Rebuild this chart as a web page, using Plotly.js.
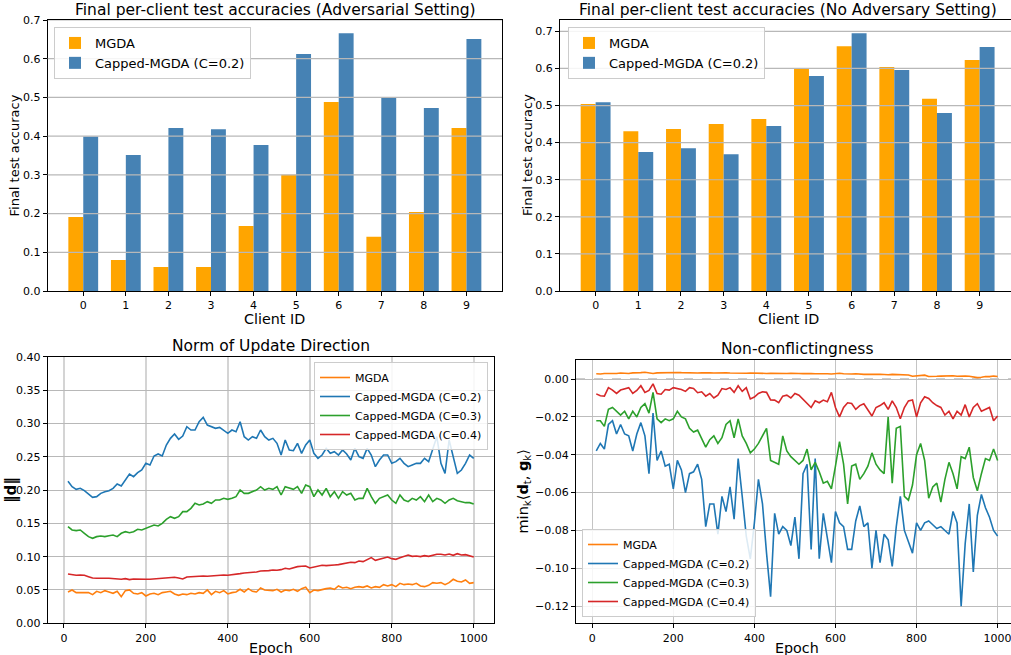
<!DOCTYPE html>
<html>
<head>
<meta charset="utf-8">
<script src="https://cdn.plot.ly/plotly-3.0.1.min.js"></script>
<style>
html,body{margin:0;padding:0;background:#fff;}
#chart{width:1011px;height:655px;}
</style>
</head>
<body>
<div id="chart"></div>
<script>
// ---------- data ----------
const clients = [0,1,2,3,4,5,6,7,8,9];
const advMGDA    = [0.191,0.080,0.062,0.062,0.168,0.300,0.488,0.140,0.204,0.421];
const advCapped  = [0.399,0.351,0.421,0.418,0.377,0.612,0.666,0.501,0.473,0.651];
const noAdvMGDA  = [0.504,0.431,0.437,0.450,0.464,0.599,0.660,0.604,0.518,0.623];
const noAdvCapped= [0.509,0.375,0.385,0.369,0.445,0.580,0.695,0.596,0.480,0.658];
const accTicks = [0.1,0.2,0.3,0.4,0.5,0.6,0.7];

const epochs = [10,20,30,40,50,60,70,80,90,100,110,120,130,140,150,160,170,180,190,200,
210,220,230,240,250,260,270,280,290,300,310,320,330,340,350,360,370,380,390,400,
410,420,430,440,450,460,470,480,490,500,510,520,530,540,550,560,570,580,590,600,
610,620,630,640,650,660,670,680,690,700,710,720,730,740,750,760,770,780,790,800,
810,820,830,840,850,860,870,880,890,900,910,920,930,940,950,960,970,980,990,1000];

// Norm of update direction
const normMGDA = [0.047,0.050,0.046,0.046,0.045,0.046,0.043,0.048,0.046,0.049,
0.047,0.045,0.048,0.040,0.049,0.050,0.045,0.044,0.046,0.041,
0.044,0.045,0.043,0.046,0.047,0.048,0.044,0.042,0.044,0.043,
0.045,0.044,0.046,0.045,0.050,0.043,0.048,0.046,0.049,0.044,
0.046,0.047,0.051,0.047,0.052,0.048,0.047,0.053,0.050,0.050,
0.049,0.051,0.047,0.050,0.049,0.051,0.048,0.052,0.054,0.046,
0.050,0.049,0.051,0.052,0.053,0.051,0.056,0.053,0.054,0.052,
0.054,0.055,0.054,0.056,0.053,0.055,0.054,0.058,0.056,0.058,
0.055,0.060,0.058,0.059,0.058,0.060,0.056,0.055,0.057,0.061,
0.060,0.061,0.058,0.061,0.066,0.063,0.062,0.065,0.060,0.061];
const normC02 = [0.213,0.205,0.201,0.2025,0.199,0.194,0.189,0.190,0.195,0.1975,
0.199,0.2025,0.209,0.206,0.215,0.224,0.220,0.226,0.230,0.240,
0.2375,0.251,0.254,0.251,0.2675,0.2775,0.284,0.276,0.281,0.295,
0.290,0.290,0.3025,0.309,0.2975,0.295,0.2925,0.294,0.290,0.285,
0.290,0.2875,0.3025,0.280,0.275,0.280,0.2775,0.290,0.280,0.275,
0.2775,0.270,0.2525,0.275,0.260,0.259,0.270,0.255,0.2675,0.275,
0.255,0.2475,0.2525,0.2625,0.255,0.2575,0.2525,0.260,0.254,0.245,
0.2625,0.250,0.2475,0.2625,0.2525,0.235,0.245,0.2525,0.2525,0.240,
0.2425,0.2475,0.240,0.235,0.2375,0.240,0.240,0.2475,0.2425,0.260,
0.280,0.240,0.225,0.275,0.250,0.225,0.230,0.240,0.2525,0.2475];
const normC03 = [0.145,0.140,0.139,0.140,0.135,0.130,0.1275,0.130,0.131,0.130,
0.1315,0.1325,0.130,0.135,0.1375,0.136,0.1375,0.141,0.140,0.1425,
0.145,0.1475,0.146,0.150,0.156,0.160,0.1575,0.160,0.1675,0.1675,
0.1725,0.180,0.1775,0.179,0.1825,0.180,0.185,0.185,0.1875,0.186,
0.1875,0.190,0.200,0.195,0.195,0.1975,0.200,0.205,0.200,0.2025,
0.201,0.205,0.1925,0.205,0.2025,0.201,0.205,0.195,0.2075,0.205,
0.190,0.200,0.1925,0.2025,0.190,0.1975,0.1875,0.1975,0.1925,0.195,
0.185,0.1875,0.1875,0.2025,0.190,0.180,0.1875,0.190,0.1925,0.185,
0.180,0.1925,0.185,0.1825,0.1875,0.185,0.190,0.1825,0.1925,0.1825,
0.1875,0.185,0.180,0.185,0.1875,0.184,0.1825,0.181,0.181,0.179];
const normC04 = [0.074,0.073,0.072,0.0725,0.072,0.070,0.068,0.0675,0.068,0.0675,
0.0675,0.067,0.0675,0.066,0.067,0.0655,0.0665,0.066,0.0665,0.066,
0.066,0.0665,0.067,0.0665,0.068,0.0685,0.069,0.068,0.0665,0.0695,
0.070,0.0705,0.0715,0.071,0.0705,0.071,0.072,0.0715,0.0725,0.072,
0.0725,0.0735,0.0745,0.0755,0.076,0.0755,0.077,0.0785,0.0785,0.079,
0.080,0.0795,0.0805,0.0825,0.0815,0.0835,0.085,0.0855,0.086,0.083,
0.0845,0.0855,0.087,0.0865,0.0865,0.0875,0.088,0.0895,0.090,0.0915,
0.091,0.0935,0.0925,0.095,0.0985,0.0945,0.096,0.0985,0.0995,0.097,
0.096,0.0985,0.100,0.1025,0.1005,0.101,0.100,0.1015,0.1005,0.102,
0.1035,0.1035,0.1025,0.104,0.102,0.1045,0.1025,0.103,0.1015,0.0995];

// Non-conflictingness
const ncMGDA = [0.0028,0.0027,0.0030,0.0029,0.0031,0.0030,0.0032,0.0031,0.0030,0.0033,
0.0032,0.0034,0.0036,0.0032,0.0030,0.0033,0.0034,0.0033,0.0035,0.0036,
0.0035,0.0034,0.0033,0.0034,0.0033,0.0032,0.0033,0.0034,0.0033,0.0032,
0.0033,0.0032,0.0033,0.0032,0.0031,0.0033,0.0032,0.0031,0.0032,0.0031,
0.0032,0.0031,0.0030,0.0031,0.0030,0.0031,0.0030,0.0030,0.0031,0.0032,
0.0030,0.0029,0.0030,0.0029,0.0028,0.0029,0.0027,0.0028,0.0027,0.0029,
0.0031,0.0028,0.0026,0.0027,0.0028,0.0026,0.0025,0.0026,0.0024,0.0025,
0.0026,0.0024,0.0023,0.0025,0.0024,0.0022,0.0023,0.0022,0.0015,0.0017,
0.0020,0.0021,0.0014,0.0016,0.0015,0.0016,0.0017,0.0016,0.0018,0.0015,
0.0017,0.0016,0.0015,0.0013,0.0008,0.0010,0.0014,0.0013,0.0016,0.0014];
const ncC02 = [-0.038,-0.034,-0.037,-0.024,-0.022,-0.029,-0.024,-0.029,-0.030,-0.038,
-0.029,-0.023,-0.030,-0.050,-0.018,-0.043,-0.038,-0.046,-0.045,-0.058,
-0.043,-0.048,-0.060,-0.050,-0.049,-0.045,-0.053,-0.078,-0.066,-0.066,
-0.082,-0.062,-0.070,-0.057,-0.074,-0.042,-0.062,-0.083,-0.095,-0.076,
-0.053,-0.066,-0.092,-0.115,-0.071,-0.082,-0.078,-0.080,-0.088,-0.073,
-0.095,-0.050,-0.045,-0.090,-0.042,-0.095,-0.071,-0.085,-0.097,-0.070,
-0.076,-0.078,-0.090,-0.090,-0.075,-0.067,-0.078,-0.076,-0.100,-0.080,
-0.097,-0.082,-0.085,-0.099,-0.078,-0.062,-0.080,-0.086,-0.092,-0.076,
-0.080,-0.076,-0.075,-0.077,-0.079,-0.078,-0.080,-0.082,-0.070,-0.076,
-0.120,-0.087,-0.066,-0.102,-0.072,-0.061,-0.068,-0.073,-0.080,-0.083];
const ncC03 = [-0.022,-0.022,-0.025,-0.016,-0.015,-0.017,-0.019,-0.017,-0.021,-0.017,
-0.020,-0.015,-0.013,-0.018,-0.007,-0.021,-0.023,-0.021,-0.022,-0.021,
-0.017,-0.020,-0.021,-0.026,-0.028,-0.027,-0.032,-0.036,-0.032,-0.030,
-0.034,-0.031,-0.024,-0.022,-0.031,-0.021,-0.030,-0.034,-0.039,-0.037,
-0.034,-0.030,-0.026,-0.043,-0.044,-0.045,-0.030,-0.038,-0.041,-0.043,
-0.045,-0.043,-0.037,-0.048,-0.044,-0.049,-0.055,-0.054,-0.058,-0.046,
-0.033,-0.045,-0.066,-0.046,-0.045,-0.053,-0.050,-0.046,-0.039,-0.045,
-0.048,-0.050,-0.020,-0.055,-0.026,-0.025,-0.062,-0.064,-0.056,-0.040,
-0.034,-0.043,-0.063,-0.057,-0.055,-0.065,-0.053,-0.044,-0.050,-0.058,
-0.041,-0.042,-0.036,-0.052,-0.059,-0.050,-0.042,-0.043,-0.037,-0.043];
const ncC04 = [-0.0078,-0.0088,-0.0090,-0.0045,-0.0058,-0.0076,-0.0058,-0.0050,-0.0045,-0.0076,
-0.0060,-0.0035,-0.0070,-0.0060,-0.0025,-0.0076,-0.0080,-0.0055,-0.0058,-0.0045,
-0.0050,-0.0055,-0.0065,-0.0045,-0.0050,-0.0072,-0.0067,-0.0090,-0.0076,-0.0100,
-0.0085,-0.0050,-0.0055,-0.0045,-0.0070,-0.0035,-0.0065,-0.0045,-0.0105,-0.0095,
-0.0076,-0.0067,-0.0070,-0.0110,-0.0111,-0.0125,-0.0090,-0.0085,-0.0100,-0.0076,
-0.0085,-0.0105,-0.0130,-0.0150,-0.0115,-0.0125,-0.0111,-0.0120,-0.0070,-0.0150,
-0.0200,-0.0150,-0.0125,-0.0129,-0.0160,-0.0140,-0.0130,-0.0160,-0.0195,-0.0150,
-0.0140,-0.0125,-0.0160,-0.0115,-0.0150,-0.0210,-0.0150,-0.0115,-0.0110,-0.0200,
-0.0125,-0.0093,-0.0102,-0.0125,-0.0140,-0.0150,-0.0190,-0.0170,-0.0210,-0.0170,
-0.0190,-0.0135,-0.0200,-0.0150,-0.0130,-0.0170,-0.0160,-0.0150,-0.0220,-0.0195];

// ---------- styling ----------
const FONT = "DejaVu Sans";
const cOrangeBar = "#FFA500", cBlueBar = "#4682B4";
const cMGDA = "#ff7f0e", c02 = "#1f77b4", c03 = "#2ca02c", c04 = "#d62728";
const W = 1011, H = 655;
const px = v => v / W, py = v => 1 - v / H;

const traces = [
  {type:"bar", x:clients, y:advMGDA, name:"MGDA", marker:{color:cOrangeBar}, offset:-0.35, width:0.35, xaxis:"x", yaxis:"y", legend:"legend"},
  {type:"bar", x:clients, y:advCapped, name:"Capped-MGDA (C=0.2)", marker:{color:cBlueBar}, offset:0, width:0.35, xaxis:"x", yaxis:"y", legend:"legend"},
  {type:"bar", x:clients, y:noAdvMGDA, name:"MGDA", marker:{color:cOrangeBar}, offset:-0.35, width:0.35, xaxis:"x2", yaxis:"y2", legend:"legend2"},
  {type:"bar", x:clients, y:noAdvCapped, name:"Capped-MGDA (C=0.2)", marker:{color:cBlueBar}, offset:0, width:0.35, xaxis:"x2", yaxis:"y2", legend:"legend2"},
  {type:"scatter", mode:"lines", x:epochs, y:normMGDA, name:"MGDA", line:{color:cMGDA,width:1.6}, xaxis:"x3", yaxis:"y3", legend:"legend3"},
  {type:"scatter", mode:"lines", x:epochs, y:normC02, name:"Capped-MGDA (C=0.2)", line:{color:c02,width:1.6}, xaxis:"x3", yaxis:"y3", legend:"legend3"},
  {type:"scatter", mode:"lines", x:epochs, y:normC03, name:"Capped-MGDA (C=0.3)", line:{color:c03,width:1.6}, xaxis:"x3", yaxis:"y3", legend:"legend3"},
  {type:"scatter", mode:"lines", x:epochs, y:normC04, name:"Capped-MGDA (C=0.4)", line:{color:c04,width:1.6}, xaxis:"x3", yaxis:"y3", legend:"legend3"},
  {type:"scatter", mode:"lines", x:epochs, y:ncMGDA, name:"MGDA", line:{color:cMGDA,width:1.6}, xaxis:"x4", yaxis:"y4", legend:"legend4"},
  {type:"scatter", mode:"lines", x:epochs, y:ncC02, name:"Capped-MGDA (C=0.2)", line:{color:c02,width:1.6}, xaxis:"x4", yaxis:"y4", legend:"legend4"},
  {type:"scatter", mode:"lines", x:epochs, y:ncC03, name:"Capped-MGDA (C=0.3)", line:{color:c03,width:1.6}, xaxis:"x4", yaxis:"y4", legend:"legend4"},
  {type:"scatter", mode:"lines", x:epochs, y:ncC04, name:"Capped-MGDA (C=0.4)", line:{color:c04,width:1.6}, xaxis:"x4", yaxis:"y4", legend:"legend4"}
];

const tickFont = {family:FONT, size:11, color:"#000"};
const baseAx = {showline:true, linecolor:"#000", linewidth:1, ticks:"outside", ticklen:4, tickwidth:1,
  tickcolor:"#000", tickfont:tickFont, zeroline:false, fixedrange:true, ticklabeloverflow:"allow"};

function legendCfg(x, y, xa, ya, size) {
  return {x:x, y:y, xanchor:xa, yanchor:ya, bgcolor:"rgba(255,255,255,0.85)", bordercolor:"#cccccc",
    borderwidth:1, font:{family:FONT, size:size, color:"#000"}, traceorder:"normal", itemclick:false};
}

const shapes = [];
accTicks.forEach(t => {
  shapes.push({type:"line", xref:"x domain", yref:"y", x0:0, x1:1, y0:t, y1:t, layer:"above", line:{color:"#b8b8b8", width:1.2}});
  shapes.push({type:"line", xref:"x2 domain", yref:"y2", x0:0, x1:1, y0:t, y1:t, layer:"above", line:{color:"#b8b8b8", width:1.2}});
});
shapes.push({type:"line", xref:"x4 domain", yref:"y4", x0:0, x1:1, y0:0, y1:0, layer:"below", line:{color:"#9a9a9a", width:1.3, dash:"dash"}});

function ann(text, x, y, size, opts) {
  return Object.assign({text:text, x:px(x), y:py(y), xref:"paper", yref:"paper", showarrow:false,
    xanchor:"center", yanchor:"middle", font:{family:FONT, size:size, color:"#000"}}, opts || {});
}

const annotations = [
  ann("Final per-client test accuracies (Adversarial Setting)", 275, 10, 15.5),
  ann("Final per-client test accuracies (No Adversary Setting)", 788, 10, 15.5),
  ann("Norm of Update Direction", 271, 346, 15.5),
  ann("Non-conflictingness", 797, 349, 15.5),
  ann("Client ID", 274.5, 318.5, 14.3),
  ann("Client ID", 788, 318.5, 14.3),
  ann("Epoch", 270.5, 647.5, 14.3),
  ann("Epoch", 797, 647.5, 14.3),
  ann("Final test accuracy", 14, 155.5, 13, {textangle:-90}),
  ann("Final test accuracy", 527.5, 155.5, 13, {textangle:-90}),
  ann("<b>‖d‖</b>", 11, 490, 15, {textangle:-90}),
  ann("min<sub>k</sub>⟨<b>d</b><sub>t</sub>, <b>g</b><sub>k</sub>⟩", 523, 491.5, 14.5, {textangle:-90})
];

const layout = {
  width:W, height:H, margin:{l:0, r:0, t:0, b:0}, paper_bgcolor:"#fff", plot_bgcolor:"#fff",
  font:{family:FONT, color:"#000"}, barmode:"overlay", showlegend:true,
  xaxis: Object.assign({}, baseAx, {domain:[px(47.7), px(502)], anchor:"y", range:[-0.835, 9.835], tickvals:clients, mirror:true, showgrid:false}),
  yaxis: Object.assign({}, baseAx, {domain:[py(291), py(20)], anchor:"x", range:[0, 0.7], dtick:0.1, tick0:0, tickformat:".1f", mirror:true, showgrid:false}),
  xaxis2: Object.assign({}, baseAx, {domain:[px(560), 1], anchor:"y2", range:[-0.835, 9.735], tickvals:clients, mirror:true, showgrid:false}),
  yaxis2: Object.assign({}, baseAx, {domain:[py(291), py(19.5)], anchor:"x2", range:[0, 0.732], dtick:0.1, tick0:0, tickformat:".1f", mirror:false, showgrid:false}),
  xaxis3: Object.assign({}, baseAx, {domain:[px(47.7), px(494)], anchor:"y3", range:[-39.5, 1049.5], dtick:200, tick0:0, mirror:true, showgrid:true, gridcolor:"#d4d4d4", gridwidth:1.6}),
  yaxis3: Object.assign({}, baseAx, {domain:[py(623.3), py(356.7)], anchor:"x3", range:[0, 0.40], dtick:0.05, tick0:0, tickformat:".2f", mirror:true, showgrid:true, gridcolor:"#b8b8b8", gridwidth:1}),
  xaxis4: Object.assign({}, baseAx, {domain:[px(576), 1], anchor:"y4", range:[-40, 1033], dtick:200, tick0:0, mirror:true, showgrid:true, gridcolor:"#c4c4c4", gridwidth:1.3}),
  yaxis4: Object.assign({}, baseAx, {domain:[py(623.3), py(360)], anchor:"x4", range:[-0.1291, 0.0101], dtick:0.02, tick0:0, tickformat:".2f", mirror:false, showgrid:true, gridcolor:"#bcbcbc", gridwidth:1}),
  legend: legendCfg(px(54), py(27), "left", "top", 13),
  legend2: legendCfg(px(568), py(27), "left", "top", 13),
  legend3: legendCfg(px(488), py(362), "right", "top", 11),
  legend4: legendCfg(px(582), py(617), "left", "bottom", 11),
  shapes: shapes,
  annotations: annotations
};

Plotly.newPlot("chart", traces, layout, {displayModeBar:false, staticPlot:true});
</script>
</body>
</html>
